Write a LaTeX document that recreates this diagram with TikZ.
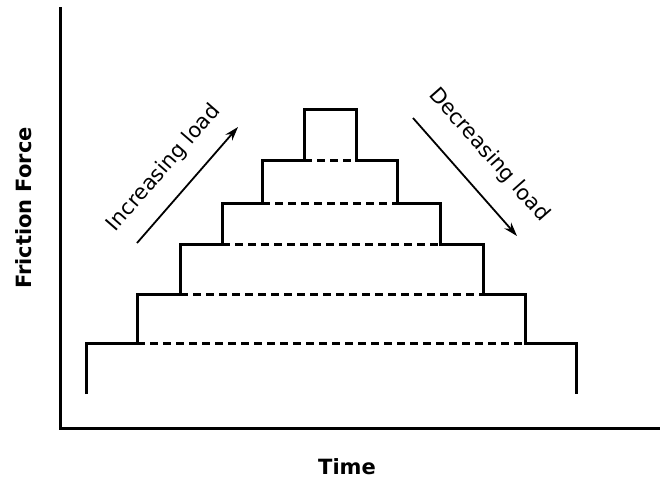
\documentclass[tikz,border=0pt]{standalone}
\usepackage{fontspec}
\setmainfont{DejaVu Sans}
\usetikzlibrary{arrows.meta}
\begin{document}
\begin{tikzpicture}[x=1pt,y=-1pt,
  axisline/.style={line width=3pt},
  stepline/.style={line width=3pt,line join=miter},
  levelline/.style={line width=3pt,dash pattern=on 8pt off 5pt},
  loadarrow/.style={line width=1.8pt,-{Stealth[length=14pt,width=9pt]}},
  loadlabel/.style={font=\fontsize{21}{24}\selectfont,inner sep=0pt},
  axislabel/.style={font=\fontsize{21}{25}\selectfont\bfseries,inner sep=0pt}]
\useasboundingbox (0,0) rectangle (666,480);
% axes
\coordinate (ytop) at (60,7);
\coordinate (orig) at (60,428);
\coordinate (xend) at (660,428);
\draw[axisline] (ytop) -- (orig) -- (xend);
% step profile
\draw[stepline] (86,394) -- (86,343) -- (137,343) -- (137,294) -- (180,294) -- (180,244)
  -- (222,244) -- (222,203) -- (262,203) -- (262,160) -- (304,160) -- (304,109)
  -- (356,109) -- (356,160) -- (397,160) -- (397,203) -- (440,203) -- (440,244)
  -- (483,244) -- (483,294) -- (525,294) -- (525,343) -- (576,343) -- (576,394);
% dashed levels
\draw[levelline] (137,343) -- (525,343);
\draw[levelline] (180,294) -- (483,294);
\draw[levelline] (222,244) -- (440,244);
\draw[levelline] (262,203) -- (397,203);
\draw[levelline] (304,160) -- (356,160);
% arrows
\coordinate (incA) at (137,243);
\coordinate (incB) at (238,127);
\coordinate (decA) at (413,118);
\coordinate (decB) at (517,236);
\draw[loadarrow] (incA) -- (incB);
\draw[loadarrow] (decA) -- (decB);
\node[loadlabel,rotate=49] (inc) at (164,168) {Increasing load};
\node[loadlabel,rotate=-48.5] (dec) at (489,155) {Decreasing load};
\node[axislabel,rotate=90] (ylab) at (24,208) {Friction Force};
\node[axislabel] (xlab) at (347,467) {Time};
\end{tikzpicture}
\end{document}
